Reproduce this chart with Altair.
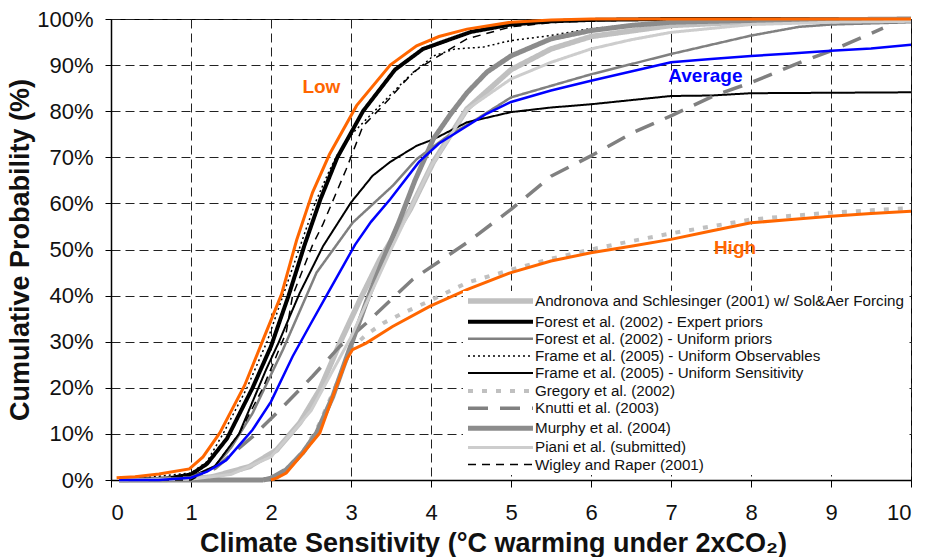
import altair as alt
import pandas as pd

# ---- study curves (legend order) ----
names = [
    "Andronova and Schlesinger (2001) w/ Sol&Aer Forcing",
    "Forest et al. (2002) - Expert priors",
    "Forest et al. (2002) - Uniform priors",
    "Frame et al. (2005) - Uniform Observables",
    "Frame et al. (2005) - Uniform Sensitivity",
    "Gregory et al. (2002)",
    "Knutti et al. (2003)",
    "Murphy et al. (2004)",
    "Piani et al. (submitted)",
    "Wigley and Raper (2001)",
]
colors = ["#c0c0c0", "#000000", "#808080", "#000000", "#000000",
          "#c0c0c0", "#808080", "#8c8c8c", "#cdcdcd", "#000000"]
dashes = [[1, 0], [1, 0], [1, 0], [2, 3], [1, 0], [5, 9], [20, 12], [1, 0], [1, 0], [8, 6]]
widths = [5.5, 4, 2.5, 1.5, 2, 4, 3.5, 5, 3, 1.5]

andronova_x = [0.1, 1.0, 1.27, 1.73, 2.07, 2.36, 2.61, 2.86, 3.11, 3.36, 3.74, 4.03, 4.45, 5.0, 5.5, 6.0, 7.0, 8.0, 9.0, 10.0]
andronova_y = [0, 0.2, 0.7, 2.9, 6.5, 12.4, 19.6, 29.7, 39, 47.8, 58.7, 69, 80.5, 89, 93.5, 96.2, 98.6, 99.4, 99.7, 99.8]

fexp_x = [0.1, 0.7, 1.0, 1.2, 1.45, 1.77, 2.0, 2.22, 2.42, 2.62, 2.83, 3.15, 3.55, 3.9, 4.5, 5.0, 5.5, 6.0, 7.0, 10.0]
fexp_y = [0, 0.3, 1.2, 3.5, 9, 20, 29, 40, 51, 61, 70, 80, 89, 93.5, 97.2, 98.8, 99.5, 99.8, 100, 100]

funi_x = [0.1, 1.0, 1.3, 1.5, 1.77, 2.15, 2.57, 3.02, 3.52, 3.82, 4.2, 4.5, 5.0, 5.5, 6.0, 6.5, 7.0, 7.5, 8.0, 8.6, 9.0, 10.0]
funi_y = [0, 0.5, 3, 7, 14.5, 28.3, 45, 55.8, 63.8, 69.6, 74.5, 77.5, 83, 85.5, 88, 90.2, 92.4, 94.4, 96.4, 98.3, 98.8, 99.3]

fobs_x = [0.1, 1.0, 1.2, 1.4, 1.7, 1.95, 2.15, 2.35, 2.55, 2.7, 2.82, 3.03, 3.36, 3.69, 4.03, 4.3, 4.65, 4.99, 5.49, 5.95, 6.5, 7.0, 8.0, 10.0]
fobs_y = [0, 1.5, 4, 10, 20, 30, 40, 50, 60, 66, 70.3, 75.4, 81.2, 87, 92, 93.5, 93.9, 95.3, 96.4, 97.8, 98.8, 99.3, 99.7, 100]

fsen_x = [0.1, 1.0, 1.3, 1.6, 1.94, 2.1, 2.36, 2.65, 3.0, 3.27, 3.49, 3.82, 4.03, 4.45, 5.0, 5.5, 6.0, 7.0, 7.5, 8.0, 10.0]
fsen_y = [0, 0.7, 3, 10, 24, 30, 40.6, 50.7, 60.2, 66, 69, 72.5, 73.9, 77.6, 79.8, 80.8, 81.5, 83.3, 83.4, 83.9, 84.1]

greg_x = [0.1, 2.0, 2.2, 2.4, 2.6, 2.8, 3.0, 3.19, 3.4, 3.65, 4.0, 4.45, 5.0, 5.5, 6.0, 6.5, 7.0, 7.5, 8.0, 8.5, 9.0, 9.5, 10.0]
greg_y = [0, 0, 2, 6, 12, 20, 28.5, 31.5, 34, 36.2, 39, 42.8, 45.6, 48, 50, 51.8, 53.5, 55, 56.5, 57.3, 58, 58.5, 59]

knutti_x = [0.1, 1.0, 1.3, 1.77, 2.1, 2.52, 2.86, 3.19, 3.77, 4.45, 5.0, 5.5, 6.0, 6.53, 7.0, 7.53, 8.0, 8.66, 9.0, 9.65]
knutti_y = [0, 0.5, 2.5, 9.4, 15, 22.5, 29, 34, 43.5, 51.5, 58.7, 65.9, 70.3, 75.4, 79, 83.3, 86.2, 90.9, 93.1, 98]

murphy_x = [0.1, 1.9, 2.0, 2.19, 2.4, 2.57, 2.77, 2.98, 3.19, 3.4, 3.6, 3.8, 4.03, 4.25, 4.45, 4.7, 5.0, 5.5, 6.0, 6.5, 7.0, 8.0, 10.0]
murphy_y = [0, 0, 0.4, 2.2, 6, 10.2, 18, 28.3, 38.5, 47.8, 56, 65, 74, 79.5, 84, 88.5, 92, 95.7, 97.5, 98.6, 99.3, 99.7, 100]

piani_x = [0.1, 1.0, 1.5, 2.0, 2.5, 3.0, 3.5, 4.0, 4.45, 5.0, 5.5, 6.0, 6.5, 7.0, 8.0, 9.0, 10.0]
piani_y = [0, 0.2, 1.2, 5, 15, 31, 50, 68, 80.4, 87, 90.6, 93.5, 95.5, 97.1, 98.8, 99.3, 99.5]

wigley_x = [0.1, 1.0, 1.3, 1.6, 1.9, 2.19, 2.27, 2.52, 2.65, 2.94, 3.15, 3.4, 3.78, 4.03, 4.45, 5.0, 5.5, 6.0, 7.0, 10.0]
wigley_y = [0, 0, 3, 10, 20, 32, 40, 51, 55.5, 67.4, 76.8, 81.2, 88.5, 91.3, 95.7, 98.3, 99.2, 99.6, 100, 100]

study_x = [andronova_x, fexp_x, funi_x, fobs_x, fsen_x, greg_x, knutti_x, murphy_x, piani_x, wigley_x]
study_y = [andronova_y, fexp_y, funi_y, fobs_y, fsen_y, greg_y, knutti_y, murphy_y, piani_y, wigley_y]

# ---- envelope curves ----
low_x = [0.07, 0.3, 0.6, 0.98, 1.15, 1.36, 1.67, 1.9, 2.13, 2.32, 2.52, 2.73, 3.07, 3.49, 3.82, 4.1, 4.45, 5.0, 5.5, 6.0, 10.0]
low_y = [0.5, 0.7, 1.3, 2.4, 5, 10.2, 20.5, 30.4, 40.2, 52, 62.4, 70.6, 81.2, 90, 94.2, 96.2, 97.8, 99.3, 99.8, 100, 100]

avg_x = [0.1, 0.6, 1.0, 1.2, 1.44, 1.77, 2.0, 2.27, 2.5, 2.69, 3.05, 3.25, 3.49, 3.85, 4.1, 4.45, 4.7, 5.0, 5.5, 6.0, 6.5, 7.0, 7.5, 8.0, 8.5, 9.0, 9.5, 10.0]
avg_y = [0, 0, 0.5, 1.8, 4.3, 10.9, 17, 26.8, 34, 39.9, 51, 56, 60.9, 69, 73, 76.8, 79.5, 82, 84.5, 86.6, 88.6, 90.6, 91.3, 92, 92.5, 93.1, 93.6, 94.4]

high_x = [2.0, 2.07, 2.19, 2.4, 2.61, 2.77, 2.94, 3.02, 3.19, 3.52, 3.99, 4.45, 5.0, 5.5, 6.0, 6.5, 7.0, 7.5, 8.0, 8.5, 9.0, 9.5, 10.0]
high_y = [0, 0.4, 1.5, 5.8, 10.2, 18, 26, 28.3, 29.7, 33.3, 37.7, 41.3, 45, 47.5, 49.3, 50.7, 52.2, 54, 55.8, 56.5, 57.2, 57.8, 58.3]

# ---- annotations ----
ann_text = ["Low", "Average", "High"]
ann_x = [2.63, 7.43, 7.8]
ann_y = [85.2, 87.6, 50.3]

ORANGE = "#ff6600"
BLUE = "#0000ff"
FONT = "Liberation Sans"

rows = []
for n, xs, ys in zip(names, study_x, study_y):
    for xv, yv in zip(xs, ys):
        rows.append({"series": n, "x": xv, "y": yv})
studies = pd.DataFrame(rows)

def env_df(xs, ys):
    return pd.DataFrame({"x": xs, "y": ys})

xscale = alt.Scale(domain=[0, 10], nice=False)
yscale = alt.Scale(domain=[0, 100], nice=False)

xax = alt.Axis(
    values=list(range(0, 11)), title="Climate Sensitivity (°C warming under 2xCO₂)",
    titleX=382, titleY=71, titleBaseline="alphabetic", titleAlign="center",
    labelPadding=15, tickSize=7,
)
yax = alt.Axis(
    values=list(range(0, 101, 10)), labelExpr="datum.value + '%'",
    title="Cumulative Probability (%)", titleAngle=-90, titleX=-91, titleY=230.5,
    titleAlign="center", titleBaseline="middle", labelPadding=12, tickSize=6,
)

X = alt.X("x:Q", scale=xscale, axis=xax)
Y = alt.Y("y:Q", scale=yscale, axis=yax)

study_layer = alt.Chart(studies).mark_line(strokeCap="butt", strokeJoin="round").encode(
    x=X, y=Y,
    color=alt.Color("series:N", scale=alt.Scale(domain=names, range=colors),
                    legend=alt.Legend(
                        title=None, orient="none", legendX=352, legendY=272,
                        symbolType="M-1,0H12", symbolSize=100, symbolOffset=0,
                        labelFontSize=15.2, labelFont=FONT, labelColor="#111",
                        labelOffset=54, labelLimit=0, rowPadding=1.1,
                        fillColor="white", padding=2)),
    strokeDash=alt.StrokeDash("series:N", scale=alt.Scale(domain=names, range=dashes)),
    strokeWidth=alt.StrokeWidth("series:N", scale=alt.Scale(type="ordinal", domain=names, range=widths)),
    detail="series:N",
)

avg_layer = alt.Chart(env_df(avg_x, avg_y)).mark_line(color=BLUE, strokeWidth=2.5).encode(x=X, y=Y)
low_layer = alt.Chart(env_df(low_x, low_y)).mark_line(color=ORANGE, strokeWidth=3).encode(x=X, y=Y)
high_layer = alt.Chart(env_df(high_x, high_y)).mark_line(color=ORANGE, strokeWidth=3).encode(x=X, y=Y)

ann = pd.DataFrame({"label": ann_text, "x": ann_x, "y": ann_y})
ann_orange = alt.Chart(ann).transform_filter("datum.label != 'Average'").mark_text(
    color=ORANGE, font=FONT, fontSize=19, fontWeight="bold").encode(x=X, y=Y, text="label:N")
ann_blue = alt.Chart(ann).transform_filter("datum.label == 'Average'").mark_text(
    color=BLUE, font=FONT, fontSize=19, fontWeight="bold").encode(x=X, y=Y, text="label:N")

chart = alt.layer(study_layer, avg_layer, low_layer, high_layer, ann_orange, ann_blue).properties(
    width=800, height=461, autosize=alt.AutoSizeParams(type="none"),
    padding={"left": 111, "top": 19, "right": 20, "bottom": 77},
    background="white",
).configure_view(stroke="black", strokeWidth=1).configure_axis(
    grid=True, gridColor="#222", gridDash=[9, 5], gridWidth=1, gridOpacity=1,
    domainColor="black", domainWidth=1.5, tickColor="black", tickWidth=1,
    labelFont=FONT, labelFontSize=22, labelColor="#111",
    titleFont=FONT, titleFontSize=27, titleFontWeight="bold", titleColor="#111",
)

chart.save("out.html", embed_options={"renderer": "svg", "actions": False})
